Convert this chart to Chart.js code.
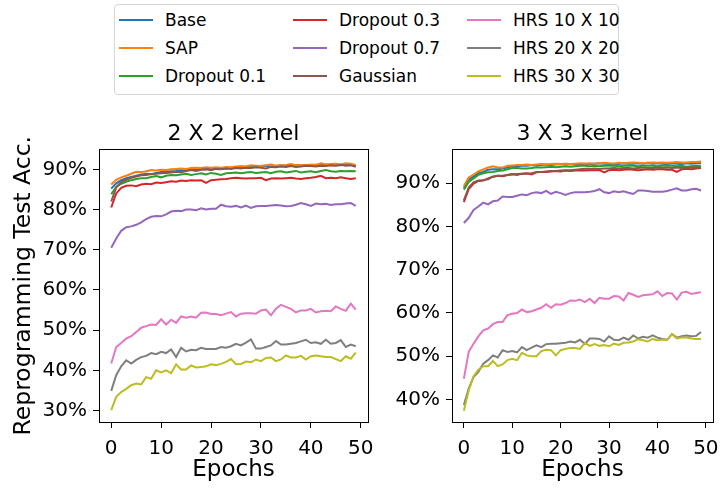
<!DOCTYPE html>
<html>
<head>
<meta charset="utf-8">
<script src="https://cdn.jsdelivr.net/npm/chart.js@4.4.0/dist/chart.umd.min.js"></script>
<style>
  html, body { margin: 0; padding: 0; background: #fff; }
  body { width: 728px; height: 489px; position: relative; overflow: hidden; font-family: 'DejaVu Sans', sans-serif; }
  #legend { position: absolute; left: 114px; top: 4px; width: 503px; height: 89px; border: 1px solid #d6d6d6; border-radius: 4px; background: #fff; }
  .item { position: absolute; height: 20px; display: flex; align-items: center; font-size: 17px; color: #000; white-space: nowrap; }
  .item i { display: inline-block; width: 34px; height: 2px; margin-right: 12px; }
  canvas { position: absolute; }
  #left { left: 0; top: 100px; }
  #right { left: 372px; top: 100px; }
</style>
</head>
<body>
<div id="legend"></div>
<canvas id="left" width="385" height="389"></canvas>
<canvas id="right" width="356" height="389"></canvas>
<script>
const seriesNames = ['Base', 'SAP', 'Dropout 0.1', 'Dropout 0.3', 'Dropout 0.7', 'Gaussian', 'HRS 10 X 10', 'HRS 20 X 20', 'HRS 30 X 30'];
const seriesColors = ['#1f77b4', '#ff7f0e', '#2ca02c', '#d62728', '#9467bd', '#8c564b', '#e377c2', '#7f7f7f', '#bcbd22'];

const epochs = [0,1,2,3,4,5,6,7,8,9,10,11,12,13,14,15,16,17,18,19,20,21,22,23,24,25,26,27,28,29,30,31,32,33,34,35,36,37,38,39,40,41,42,43,44,45,46,47,48,49];
const xTicks = [0, 10, 20, 30, 40, 50];

// 2 X 2 kernel
const base2 = [85.2,86.5,87.3,87.8,88.1,88.4,88.7,88.9,88.8,89.1,89.3,89.4,89.5,89.6,89.8,89.7,89.9,90.0,90.1,90.0,90.2,90.1,90.3,90.2,90.4,90.5,90.6,90.5,90.7,90.6,90.8,90.9,90.7,90.8,91.0,90.9,90.8,91.0,91.1,91.0,90.9,91.1,91.0,91.2,91.0,91.1,91.0,91.2,91.1,90.8];
const sap2 = [86.2,87.4,88.0,88.4,88.9,89.4,89.3,89.5,89.8,89.7,89.9,89.8,90.0,90.1,90.2,90.1,90.3,90.4,90.3,90.5,90.4,90.5,90.4,90.6,90.5,90.7,90.8,90.7,91.0,90.9,90.8,91.0,91.2,90.9,91.0,91.1,91.3,91.0,91.1,91.0,91.2,91.1,91.5,91.2,91.3,91.4,91.2,91.5,91.4,91.1];
const drop01_2 = [83.8,85.6,86.4,86.9,87.3,87.6,87.8,87.8,88.1,88.3,88.0,88.4,88.6,88.5,88.7,88.9,88.6,88.8,89.0,88.7,89.1,88.9,88.6,89.0,89.1,89.2,89.0,89.2,89.3,89.1,89.2,89.3,89.0,89.4,89.5,89.2,89.4,89.6,89.2,89.4,89.5,89.3,89.6,89.8,89.5,89.4,89.6,89.5,89.6,89.5];
const drop03_2 = [80.5,84.0,85.4,85.9,86.0,85.8,86.2,86.4,86.3,86.7,86.6,86.8,87.0,86.9,87.2,87.1,87.3,87.2,87.3,86.6,87.3,87.4,87.5,87.6,87.8,87.9,87.8,87.7,87.8,87.8,87.9,87.3,87.7,87.8,87.7,87.8,87.9,87.7,87.6,87.8,87.9,88.1,88.4,87.8,87.9,87.8,88.0,87.8,87.6,87.8];
const drop07_2 = [70.5,72.8,74.7,75.6,75.8,76.2,76.8,77.6,78.2,78.4,78.3,78.8,79.5,79.7,79.6,80.0,80.0,79.8,80.3,80.0,80.2,80.2,81.2,80.8,80.7,80.9,80.5,81.0,80.4,80.8,80.9,80.9,81.0,81.1,81.0,80.8,80.9,81.2,81.6,81.3,80.9,81.5,81.3,81.4,81.1,81.3,81.3,81.5,81.6,80.9];
const gauss2 = [82.0,85.5,86.8,87.4,87.9,88.2,88.5,88.6,88.8,88.9,89.0,89.1,89.2,89.4,89.3,89.6,89.8,89.6,89.9,90.0,89.8,90.1,90.0,90.2,90.1,90.3,90.2,90.4,90.3,90.5,90.4,90.2,90.6,90.5,90.7,90.6,90.8,90.6,90.7,90.9,90.8,90.7,90.9,90.8,91.0,90.9,91.1,90.9,91.0,90.6];
const hrs10_2 = [41.7,45.8,46.8,47.9,48.5,49.5,50.6,51.0,51.4,51.3,52.7,51.4,52.6,51.8,53.4,53.1,53.4,53.1,54.3,54.4,54.0,54.0,53.7,54.1,54.5,53.4,54.1,54.2,54.2,54.1,54.9,55.1,53.7,55.3,56.3,55.8,55.3,54.4,54.9,54.9,55.3,54.4,54.7,54.8,54.7,55.9,55.3,54.8,56.6,55.1];
const hrs20_2 = [34.9,38.8,41.0,42.5,41.7,42.6,43.3,43.6,44.3,44.0,44.6,44.3,45.2,43.3,45.6,44.7,45.1,45.0,45.6,45.3,45.3,45.3,45.8,45.6,46.0,46.6,46.2,46.9,47.7,45.4,45.4,45.8,46.2,47.3,46.4,46.4,46.6,46.8,47.2,47.6,46.8,47.0,46.6,47.6,46.6,46.8,47.5,45.8,46.4,46.0];
const hrs30_2 = [30.1,33.4,34.6,35.4,36.3,36.7,36.5,38.3,37.9,40.0,39.5,40.0,39.3,41.5,40.2,40.2,41.2,40.7,40.8,41.0,41.5,41.3,41.6,42.1,42.8,41.5,41.6,42.2,42.0,42.7,42.3,43.1,43.2,42.3,42.7,43.7,43.2,43.2,43.6,42.7,43.5,43.7,43.5,43.3,43.3,42.8,42.3,43.5,42.9,44.4];

// 3 X 3 kernel
const base3 = [88.9,90.8,91.5,92.3,92.6,93.1,93.2,93.2,93.4,93.6,93.9,93.9,94.0,94.0,94.2,94.1,94.2,94.3,94.2,94.3,94.4,94.3,94.4,94.3,94.4,94.5,94.4,94.5,94.6,94.5,94.4,94.5,94.4,94.6,94.5,94.5,94.6,94.5,94.7,94.5,94.6,94.5,94.4,94.6,94.5,94.4,94.6,94.5,94.6,94.6];
const sap3 = [89.3,91.3,92.0,92.7,93.2,93.6,93.9,93.6,93.6,94.0,94.1,94.2,94.2,94.3,94.2,94.3,94.4,94.3,94.4,94.5,94.4,94.5,94.4,94.5,94.6,94.5,94.6,94.5,94.6,94.7,94.6,94.5,94.7,94.6,94.7,94.8,94.7,94.6,94.7,94.8,94.7,94.8,94.7,94.8,94.9,94.8,94.8,94.9,94.9,95.0];
const drop01_3 = [88.5,90.3,91.1,91.9,92.3,92.5,92.6,92.8,92.9,93.2,93.5,93.5,93.4,93.4,93.5,93.7,93.6,93.7,93.8,93.7,93.8,93.9,93.8,93.9,94.0,94.0,93.9,94.0,93.9,94.0,94.1,94.0,93.9,94.0,94.1,94.0,93.9,94.0,94.1,94.0,93.9,94.0,94.1,94.0,93.9,94.0,93.8,93.9,94.0,93.9];
const drop03_3 = [85.6,88.6,89.9,90.5,90.6,91.1,91.5,91.7,91.6,91.9,92.1,91.9,92.2,92.3,92.0,92.5,92.6,92.6,92.7,92.8,92.7,92.9,92.8,92.9,93.0,92.9,93.0,93.0,93.0,92.5,93.0,93.1,93.0,93.1,93.2,93.1,93.0,93.1,93.2,93.1,93.2,93.2,93.1,93.1,92.6,93.2,93.3,93.2,93.4,93.5];
const drop07_3 = [80.8,82.0,83.8,84.6,85.5,85.1,85.8,86.0,86.9,86.8,86.8,87.1,87.4,87.2,87.7,87.9,87.7,88.2,87.5,88.0,87.7,87.3,87.7,87.9,87.9,87.9,88.0,88.2,88.6,87.9,87.7,88.1,87.9,88.1,87.8,87.5,88.3,88.3,88.2,88.0,88.0,88.0,88.2,88.5,88.8,88.3,88.3,88.6,88.7,88.3];
const gauss3 = [86.0,89.0,90.2,90.6,90.7,90.9,91.5,91.7,91.7,91.9,92.0,92.1,92.2,92.2,92.3,92.6,92.6,92.7,92.8,92.8,92.9,93.0,93.0,93.1,93.2,93.3,93.3,93.4,93.3,93.4,93.4,93.5,93.4,93.5,93.5,93.4,93.5,93.6,93.5,93.5,93.6,93.5,93.6,93.5,93.6,93.5,93.6,93.7,93.6,93.6];
const hrs10_3 = [44.8,51.0,52.9,54.6,56.0,56.4,57.4,57.9,57.9,59.5,59.8,60.0,60.8,60.2,60.4,60.8,61.2,62.0,61.2,62.0,61.9,62.3,62.9,62.8,63.1,62.5,63.3,62.3,63.5,63.3,63.3,63.9,63.8,62.9,64.6,64.2,63.7,64.1,64.2,64.3,65.0,63.9,64.6,64.5,63.1,64.7,64.9,64.4,64.6,64.8];
const hrs20_3 = [38.7,42.5,45.2,46.4,48.3,49.1,50.2,49.7,51.4,51.0,51.2,50.9,52.1,51.4,52.0,52.5,52.1,52.8,52.9,52.9,53.0,53.1,53.4,53.2,53.8,52.8,54.1,54.1,54.0,53.4,54.6,53.8,53.7,54.3,53.8,54.8,54.1,54.5,54.3,54.8,54.3,54.0,53.8,55.1,54.3,54.6,54.8,54.6,54.7,55.6];
const hrs30_3 = [37.4,42.1,45.4,46.9,47.7,47.7,48.9,47.7,48.1,49.1,49.4,49.1,50.8,50.2,50.0,50.0,51.2,51.5,51.4,50.2,51.4,51.7,51.9,51.9,51.7,53.1,52.4,52.8,52.4,52.6,52.3,52.9,52.6,53.1,53.2,53.4,53.9,53.7,53.4,54.0,53.7,53.8,53.8,55.1,54.1,54.3,54.3,54.1,54.0,54.0];

const yTicks2 = [30, 40, 50, 60, 70, 80, 90];
const yTicks3 = [40, 50, 60, 70, 80, 90];

const fontFamily = "'DejaVu Sans', sans-serif";

// legend (matplotlib fills columns first)
const legend = document.getElementById('legend');
seriesNames.forEach(function(name, i) {
    const col = Math.floor(i / 3);
    const row = i % 3;
    const item = document.createElement('div');
    item.className = 'item';
    item.style.left = (4 + col * 174) + 'px';
    item.style.top = (5 + row * 28) + 'px';
    item.innerHTML = '<i style="background:' + seriesColors[i] + '"></i>' + name;
    legend.appendChild(item);
});

// draws the four spines round the plot
const frame = {
    id: 'frame',
    afterDraw(chart) {
        const a = chart.chartArea;
        const ctx = chart.ctx;
        ctx.save();
        ctx.strokeStyle = '#000';
        ctx.lineWidth = 1;
        ctx.strokeRect(Math.round(a.left) + 0.5, Math.round(a.top) + 0.5, Math.round(a.right - a.left), Math.round(a.bottom - a.top));
        ctx.restore();
    }
};

function makeChart(id, title, values, yMin, yMax, yTicks, yTitle, axisWidth, padRight) {
    const datasets = values.map(function(v, i) {
        return {
            label: seriesNames[i],
            data: v.map((y, k) => ({ x: epochs[k], y: y })),
            borderColor: seriesColors[i],
            backgroundColor: seriesColors[i],
            borderWidth: 2,
            pointRadius: 0,
            tension: 0,
            fill: false,
            order: values.length - i
        };
    });

    return new Chart(document.getElementById(id), {
        type: 'line',
        data: { datasets: datasets },
        plugins: [frame],
        options: {
            responsive: false,
            animation: false,
            devicePixelRatio: 1,
            layout: { padding: { top: 21, left: 0, right: padRight, bottom: 0 } },
            plugins: {
                legend: { display: false },
                tooltip: { enabled: false },
                title: {
                    display: true,
                    text: title,
                    fullSize: false,
                    color: '#000',
                    font: { family: fontFamily, size: 22, weight: 'normal' },
                    padding: { top: 0, bottom: 2 }
                }
            },
            scales: {
                x: {
                    type: 'linear',
                    min: -2.45,
                    max: 51.45,
                    afterBuildTicks: scale => { scale.ticks = xTicks.map(v => ({ value: v })); },
                    afterFit: scale => { scale.height = 67; },
                    grid: { display: true, drawOnChartArea: false, drawTicks: true, tickLength: 6, tickColor: '#000' },
                    border: { display: false },
                    ticks: { color: '#000', padding: 9, maxRotation: 0, font: { family: fontFamily, size: 20 } },
                    title: {
                        display: true,
                        text: 'Epochs',
                        color: '#000',
                        font: { family: fontFamily, size: 23 },
                        padding: { top: 0, bottom: 5 }
                    }
                },
                y: {
                    type: 'linear',
                    min: yMin,
                    max: yMax,
                    afterBuildTicks: scale => { scale.ticks = yTicks.map(v => ({ value: v })); },
                    afterFit: scale => { scale.width = axisWidth; },
                    grid: { display: true, drawOnChartArea: false, drawTicks: true, tickLength: 6, tickColor: '#000' },
                    border: { display: false },
                    ticks: { color: '#000', padding: 6, font: { family: fontFamily, size: 20 }, callback: v => v + '%' },
                    title: {
                        display: yTitle !== '',
                        text: yTitle,
                        color: '#000',
                        font: { family: fontFamily, size: 23.5 },
                        padding: { top: 10, bottom: 0 }
                    }
                }
            }
        }
    });
}

makeChart('left', '2 X 2 kernel',
    [base2, sap2, drop01_2, drop03_2, drop07_2, gauss2, hrs10_2, hrs20_2, hrs30_2],
    27.15, 94.95, yTicks2, 'Reprogramming Test Acc.', 99, 17);

makeChart('right', '3 X 3 kernel',
    [base3, sap3, drop01_3, drop03_3, drop07_3, gauss3, hrs10_3, hrs20_3, hrs30_3],
    34.8, 97.8, yTicks3, '', 80, 5);
</script>
</body>
</html>
